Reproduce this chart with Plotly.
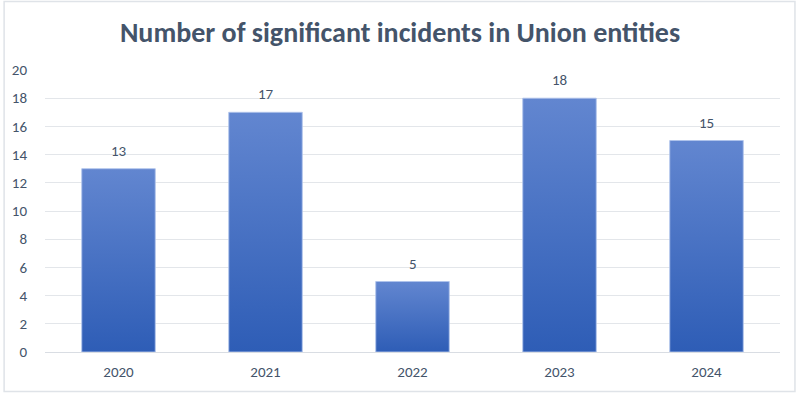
import plotly.graph_objects as go

years = ["2020", "2021", "2022", "2023", "2024"]
incidents = [13, 17, 5, 18, 15]
y_ticks = [0, 2, 4, 6, 8, 10, 12, 14, 16, 18, 20]

title_text = "Number of significant incidents in Union entities"
bar_width = 0.5
text_color = "#44546a"
font_family = "Carlito, Lato, 'Open Sans', sans-serif"

W, H = 800, 393
ML, MR, MT, MB = 43, 20, 70, 41
PW, PH = W - ML - MR, H - MT - MB

fig = go.Figure()
for i, (yr, v) in enumerate(zip(years, incidents)):
    x0, x1 = i - bar_width / 2, i + bar_width / 2
    fig.add_trace(go.Scatter(
        x=[x0, x1, x1, x0, x0], y=[0, 0, v, v, 0],
        mode="lines", fill="toself",
        line=dict(color="rgba(175,195,235,0.9)", width=1),
        fillgradient=dict(type="vertical",
                          colorscale=[[0, "#2e5db6"], [1, "#6286d0"]]),
        hoverinfo="skip", showlegend=False,
    ))

annotations = [
    dict(x=i, y=v, text=str(v), showarrow=False, yanchor="bottom", yshift=7,
         font=dict(size=15, color=text_color, family=font_family))
    for i, v in enumerate(incidents)
]

fig.update_layout(
    width=W, height=H,
    paper_bgcolor="white", plot_bgcolor="white",
    margin=dict(l=ML, r=MR, t=MT, b=MB),
    title=dict(text="<b>" + title_text + "</b>", x=0.5, xanchor="center",
               y=1 - 32 / H, yanchor="middle",
               font=dict(size=28, color=text_color, family=font_family)),
    font=dict(family=font_family, color=text_color, size=15),
    annotations=annotations,
    shapes=[dict(type="rect", xref="paper", yref="paper",
                 x0=(2 - ML) / PW, x1=(795 - ML) / PW,
                 y0=-(MB - 1.5) / PH, y1=1 + (MT - 1.5) / PH,
                 line=dict(color="#dfe3e8", width=1.5))],
)
fig.update_xaxes(range=[-0.5, len(years) - 0.5], tickvals=list(range(len(years))),
                 ticktext=years, showgrid=False, zeroline=False,
                 showline=True, linecolor="#d9dde3", linewidth=1,
                 ticks="outside", ticklen=6, tickcolor="white",
                 tickfont=dict(size=15, color=text_color))
fig.update_yaxes(range=[0, 20], tickvals=y_ticks, showgrid=True,
                 gridcolor="#e3e6ea", gridwidth=1, zeroline=False,
                 ticks="outside", ticklen=14, tickcolor="white",
                 tickfont=dict(size=15, color=text_color))

fig.write_html("out.html", config={"displayModeBar": False},
               post_script="document.body.style.margin='0';")
